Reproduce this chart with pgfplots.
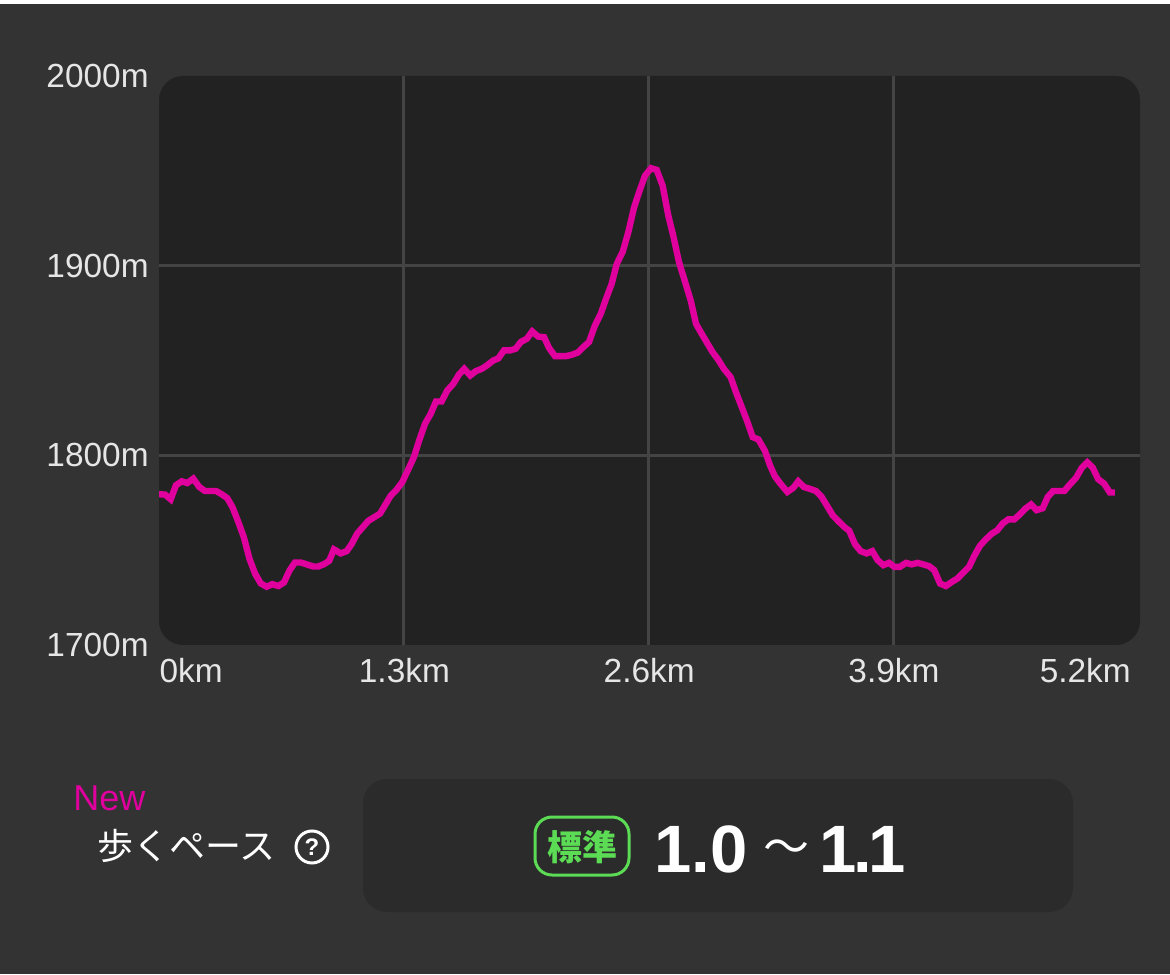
\documentclass[border=0pt]{standalone}
\usepackage{fontspec}
\usepackage{pgfplots}
\pgfplotsset{compat=1.18}
\setmainfont{Liberation Sans}
\newfontfamily\cjk{Noto Sans CJK JP}
\definecolor{pagebg}{HTML}{333333}
\definecolor{plotbg}{HTML}{222222}
\definecolor{gridc}{HTML}{444444}
\definecolor{linec}{HTML}{E0009E}
\definecolor{boxbg}{HTML}{2B2B2B}
\definecolor{greenc}{HTML}{5CDB55}
\definecolor{labelc}{HTML}{E6E6E6}
\begin{document}
\begin{tikzpicture}
\useasboundingbox (0,0) rectangle (585pt,487pt);
\fill[white] (0,0) rectangle (585pt,487pt);
\fill[pagebg] (0,0) rectangle (585pt,485pt);
% plot panel, pixel coordinates from here on
\begin{scope}[x=0.5pt,y=-0.5pt,shift={(0,487pt)}]
\fill[plotbg,rounded corners=12pt] (159,76) rectangle (1140,645);
\fill[boxbg,rounded corners=12pt] (363,779) rectangle (1073,912);
\end{scope}
\begin{axis}[
  at={(79.5pt,164.5pt)},anchor=south west,
  scale only axis,width=490.5pt,height=284.5pt,
  xmin=0,xmax=5.21,ymin=1700,ymax=2000,
  axis line style={draw=none},
  tick style={draw=none},
  major tick length=0pt,
  grid=major,
  grid style={gridc,line width=1.5pt},
  xtick={1.3,2.6,3.9},
  xticklabels={1.3km,2.6km,3.9km},
  extra x ticks={0,5.2},
  extra x tick labels={\makebox[0pt][l]{0km},\makebox[0pt][r]{5.2km\hspace*{4pt}}},
  extra x tick style={grid=none},
  ytick={1800,1900},
  yticklabels={1800m,1900m},
  extra y ticks={1700,2000},
  extra y tick labels={1700m,2000m},
  extra y tick style={grid=none},
  tick label style={font=\fontsize{16.7pt}{20pt}\selectfont,text=labelc,inner sep=0pt},
  xticklabel style={anchor=north,xshift=0.3pt,yshift=-6.5pt},
  yticklabel style={anchor=east,xshift=-5pt,yshift=0pt},
]
\addplot[linec,line width=3.2pt] coordinates {
(0.000,1779.5)(0.032,1779.3)(0.062,1776.8)(0.090,1784.2)(0.121,1786.3)(0.150,1785.4)
(0.182,1787.7)(0.214,1783.3)(0.244,1781.2)(0.303,1781.2)(0.333,1779.5)(0.363,1777.4)
(0.391,1772.5)(0.421,1764.9)(0.451,1756.7)(0.480,1745.6)(0.510,1737.7)(0.540,1732.5)
(0.572,1730.7)(0.602,1732.1)(0.634,1731.1)(0.664,1733.0)(0.692,1739.1)(0.722,1743.5)
(0.753,1743.5)(0.784,1742.5)(0.819,1741.4)(0.846,1741.4)(0.876,1742.6)(0.904,1744.4)
(0.929,1750.4)(0.965,1748.3)(0.997,1749.5)(1.023,1753.2)(1.053,1758.8)(1.111,1765.4)
(1.174,1769.3)(1.230,1778.6)(1.262,1781.9)(1.292,1785.9)(1.324,1792.6)(1.354,1799.1)
(1.382,1807.9)(1.413,1816.7)(1.443,1821.9)(1.471,1828.4)(1.501,1828.4)(1.531,1834.2)
(1.563,1837.7)(1.593,1842.6)(1.621,1845.6)(1.653,1842.1)(1.683,1844.4)(1.714,1845.6)
(1.743,1847.5)(1.775,1850.0)(1.802,1851.1)(1.832,1855.3)(1.864,1855.3)(1.894,1856.2)
(1.922,1859.8)(1.953,1861.4)(1.982,1865.3)(2.014,1862.6)(2.045,1862.3)(2.071,1856.7)
(2.103,1852.3)(2.161,1852.3)(2.192,1853.0)(2.224,1854.2)(2.253,1857.0)(2.284,1859.8)
(2.315,1868.4)(2.346,1874.6)(2.374,1882.5)(2.404,1890.4)(2.431,1900.9)(2.463,1907.4)
(2.492,1917.5)(2.523,1930.7)(2.551,1939.1)(2.581,1947.4)(2.613,1951.4)(2.643,1950.5)
(2.675,1942.1)(2.705,1926.3)(2.731,1915.8)(2.762,1901.7)(2.793,1891.7)(2.824,1881.6)
(2.852,1869.3)(2.882,1864.1)(2.940,1854.4)(2.970,1850.4)(3.000,1845.6)(3.036,1841.2)
(3.064,1833.3)(3.095,1825.4)(3.124,1817.9)(3.153,1809.6)(3.183,1808.4)(3.218,1802.4)
(3.245,1794.7)(3.271,1788.9)(3.303,1784.7)(3.337,1780.7)(3.368,1782.8)(3.395,1786.3)
(3.425,1783.3)(3.457,1782.3)(3.489,1781.2)(3.519,1778.1)(3.549,1773.2)(3.578,1768.4)
(3.608,1765.3)(3.639,1762.3)(3.666,1760.2)(3.696,1753.2)(3.726,1749.5)(3.758,1748.3)
(3.788,1749.5)(3.817,1744.7)(3.847,1742.1)(3.877,1743.3)(3.905,1741.2)(3.935,1741.2)
(3.967,1743.3)(3.997,1742.5)(4.029,1743.3)(4.059,1742.5)(4.089,1741.6)(4.117,1739.5)
(4.148,1732.4)(4.179,1731.1)(4.210,1733.2)(4.241,1735.1)(4.271,1738.1)(4.302,1741.2)
(4.330,1747.0)(4.360,1752.3)(4.390,1755.6)(4.422,1758.6)(4.452,1760.5)(4.481,1764.1)
(4.510,1766.2)(4.542,1766.2)(4.572,1768.9)(4.601,1771.9)(4.631,1774.1)(4.661,1771.1)
(4.693,1772.1)(4.720,1778.1)(4.749,1781.2)(4.808,1781.2)(4.838,1784.7)(4.870,1788.1)
(4.900,1793.3)(4.930,1796.3)(4.959,1793.5)(4.988,1787.4)(5.019,1785.1)(5.050,1780.4)
(5.077,1780.4)
};
\end{axis}
\begin{scope}[x=0.5pt,y=-0.5pt,shift={(0,487pt)}]
\node[anchor=base west,inner sep=0pt,text=linec,font=\fontsize{18pt}{20pt}\selectfont] at (73,810) {New};
\node[anchor=west,inner sep=0pt,text=white,font=\cjk\fontsize{18pt}{20pt}\selectfont] at (97,846) {歩くペース};
\draw[white,line width=1.5pt] (312,847) circle (16);
\node[text=white,inner sep=0pt,font=\bfseries\fontsize{12pt}{14pt}\selectfont] at (312,847) {?};
\draw[greenc,line width=1.5pt,rounded corners=8.5pt] (535,817) rectangle (629,875);
\node[text=greenc,inner sep=0pt,font=\cjk\bfseries\fontsize{17.5pt}{20pt}\selectfont] at (582,847) {標準};
\node[anchor=base west,inner sep=0pt,text=white,font=\bfseries\fontsize{33.5pt}{36pt}\selectfont] at (654,872) {1.0};
\node[inner sep=0pt,text=white,font=\cjk\fontsize{23pt}{28pt}\selectfont] at (786,852) {～};
\node[anchor=base west,inner sep=0pt,text=white,font=\bfseries\fontsize{33.5pt}{36pt}\selectfont] at (819,872) {1\kern-1.6pt.\kern-1.6pt1};
\end{scope}
\end{tikzpicture}
\end{document}
